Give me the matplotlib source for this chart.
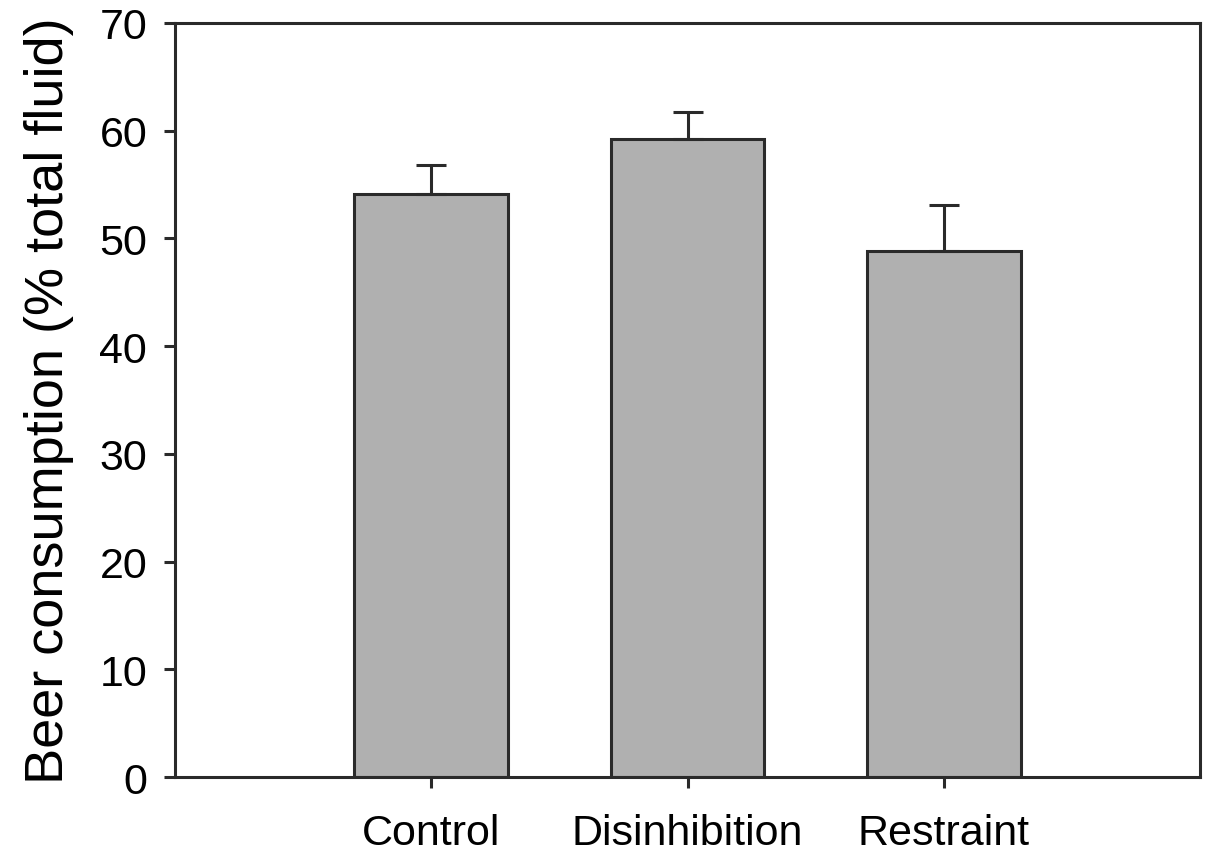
import numpy as np
import matplotlib.pyplot as plt

plt.rcParams['font.family'] = ['Liberation Sans', 'DejaVu Sans']

groups = ['Control', 'Disinhibition', 'Restraint']
means = [54.1, 59.2, 48.8]
errors = [2.7, 2.5, 4.3]

fig = plt.figure(figsize=(12.11, 8.53), dpi=100)
ax = fig.add_axes([0.1445, 0.0879, 0.8465, 0.884])

x = np.arange(len(groups))
ax.bar(x, means, width=0.6, color='#b0b0b0', edgecolor='#2a2a2a', linewidth=2.2,
       zorder=2)
ax.errorbar(x, means, yerr=[np.zeros(len(errors)), errors], fmt='none',
            ecolor='#2a2a2a', elinewidth=2.2, capsize=11, capthick=2.2, zorder=3)

ax.set_xlim(-1, 3)
ax.set_ylim(0, 70)
ax.set_yticks(np.arange(0, 71, 10))
ax.set_xticks(x)
ax.set_xticklabels(groups)
ax.set_ylabel('Beer consumption (% total fluid)', fontsize=39, labelpad=18)

for s in ax.spines.values():
    s.set_linewidth(2.2)
    s.set_color('#2a2a2a')
ax.tick_params(axis='both', labelsize=31, width=2.2, length=8, color='#2a2a2a')
ax.tick_params(axis='y', pad=12)
ax.tick_params(axis='x', pad=18)

fig.savefig('out.png', dpi=100)
